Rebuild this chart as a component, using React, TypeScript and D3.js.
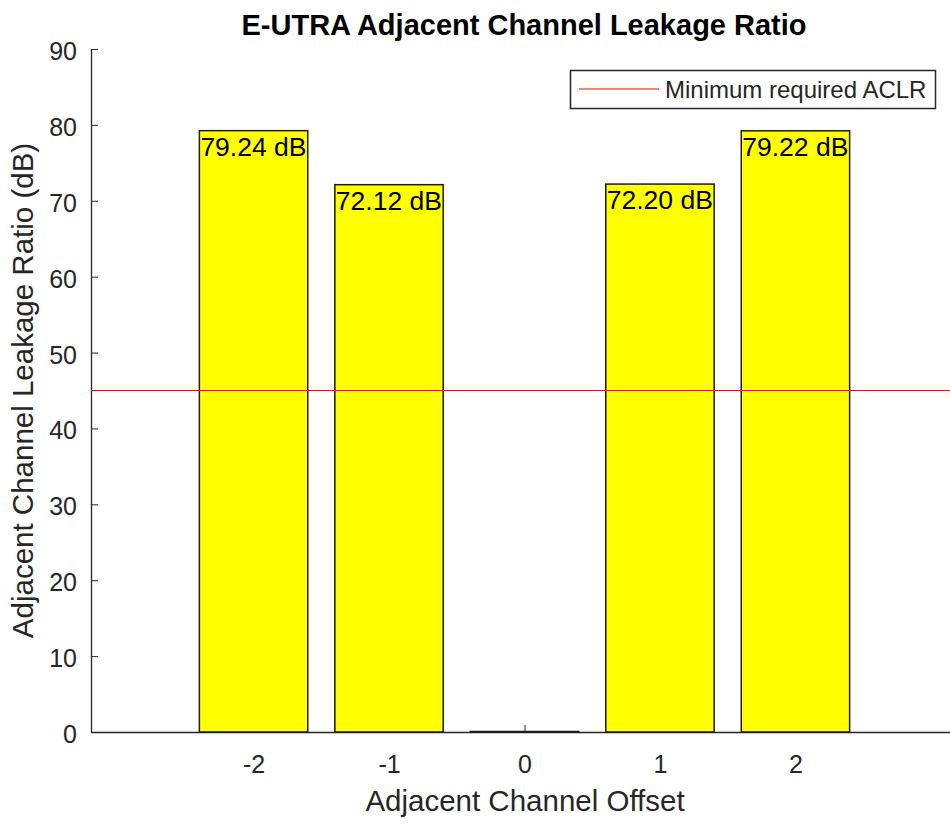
import React, { useRef, useEffect } from 'react';
import * as d3 from 'd3';

// channel offsets and measured ACLR (dB)
const offsets = [-2, -1, 0, 1, 2];
const aclrValues = [79.24, 72.12, 0, 72.2, 79.22];
const barLabels = ['79.24 dB', '72.12 dB', '', '72.20 dB', '79.22 dB'];
const yTicks = [0, 10, 20, 30, 40, 50, 60, 70, 80, 90];
const minRequired = 45;
const legendLabel = 'Minimum required ACLR';

const App = () => {
    const d3Container = useRef(null);

    const width = 950;
    const height = 825;
    const font = '"Liberation Sans", Arial, Helvetica, sans-serif';
    const axisColor = '#262626';

    useEffect(() => {
        if (!d3Container.current) {
            return;
        }
        const chart = d3.select(d3Container.current);
        chart.selectAll('*').remove();

        /* scales */
        const xScale = d3.scaleLinear().domain([-3.2, 3.2]).range([91, 958]);
        const yScale = d3.scaleLinear().domain([0, 90]).range([732, 49]);
        const barW = xScale(0.4) - xScale(-0.4);

        /* axes, ticks pointing inward like matlab */
        const yAxis = d3.axisLeft(yScale)
            .tickValues(yTicks)
            .tickFormat(d => String(d))
            .tickSizeInner(-7)
            .tickSizeOuter(0)
            .tickPadding(14);
        const yG = chart.append('g')
            .attr('transform', 'translate(' + xScale(-3.2) + ', 0)')
            .call(yAxis);
        yG.select('.domain').attr('stroke', axisColor).attr('stroke-width', 1.3);
        yG.selectAll('.tick line').attr('stroke', axisColor);
        yG.selectAll('text')
            .attr('font-family', font)
            .attr('font-size', 25)
            .attr('fill', axisColor)
            .attr('dy', '0.42em');

        const xAxis = d3.axisBottom(xScale)
            .tickValues(offsets)
            .tickFormat(d => String(d))
            .tickSizeInner(-7)
            .tickSizeOuter(0)
            .tickPadding(36);
        const xG = chart.append('g')
            .attr('transform', 'translate(0, ' + yScale(0) + ')')
            .call(xAxis);
        xG.select('.domain').attr('stroke', axisColor).attr('stroke-width', 1.3);
        xG.selectAll('.tick line').attr('stroke', axisColor);
        xG.selectAll('text')
            .attr('font-family', font)
            .attr('font-size', 25)
            .attr('fill', axisColor)
            .attr('dy', '0.2em');

        /* bars (zero bar still shows its edge) */
        chart.selectAll('rect.bar').data(offsets)
            .enter()
            .append('rect')
                .attr('class', 'bar')
                .attr('x', d => xScale(d - 0.4))
                .attr('width', barW)
                .attr('y', (d, i) => Math.min(yScale(aclrValues[i]), yScale(0) - 0.5))
                .attr('height', (d, i) => Math.max(yScale(0) - yScale(aclrValues[i]), 0.5))
                .attr('fill', '#ffff00')
                .attr('stroke', '#1a1a1a')
                .attr('stroke-width', 1.5);

        /* value labels at top-left of each bar */
        chart.selectAll('text.val').data(offsets)
            .enter()
            .append('text')
                .attr('class', 'val')
                .attr('x', d => xScale(d - 0.4) + 1)
                .attr('y', (d, i) => yScale(aclrValues[i]) + 25)
                .attr('font-family', font)
                .attr('font-size', 26.5)
                .attr('fill', '#000')
                .text((d, i) => barLabels[i]);

        /* limit line */
        chart.append('line')
            .attr('x1', xScale(-3.2))
            .attr('x2', xScale(3.2))
            .attr('y1', yScale(minRequired))
            .attr('y2', yScale(minRequired))
            .attr('stroke', '#ff0000')
            .attr('stroke-width', 1);

        /* legend */
        const lg = chart.append('g');
        lg.append('rect')
            .attr('x', 570.5).attr('y', 70.5)
            .attr('width', 365).attr('height', 38)
            .attr('fill', '#fff')
            .attr('stroke', axisColor)
            .attr('stroke-width', 1.5);
        lg.append('line')
            .attr('x1', 579).attr('x2', 659)
            .attr('y1', 89).attr('y2', 89)
            .attr('stroke', '#ff0000')
            .attr('stroke-width', 1.2);
        lg.append('text')
            .attr('x', 665).attr('y', 98)
            .attr('font-family', font)
            .attr('font-size', 24)
            .attr('fill', axisColor)
            .text(legendLabel);

        /* title and axis labels */
        chart.append('text')
            .attr('x', 524).attr('y', 35)
            .attr('text-anchor', 'middle')
            .attr('font-family', font)
            .attr('font-size', 29)
            .attr('font-weight', 'bold')
            .attr('fill', '#000')
            .text('E-UTRA Adjacent Channel Leakage Ratio');

        chart.append('text')
            .attr('x', 525).attr('y', 811)
            .attr('text-anchor', 'middle')
            .attr('font-family', font)
            .attr('font-size', 29.5)
            .attr('fill', axisColor)
            .text('Adjacent Channel Offset');

        chart.append('text')
            .attr('transform', 'translate(33, ' + (yScale(45)) + ') rotate(-90)')
            .attr('text-anchor', 'middle')
            .attr('font-family', font)
            .attr('font-size', 29.5)
            .attr('fill', axisColor)
            .text('Adjacent Channel Leakage Ratio (dB)');
    }, []);

    return (
        <svg
            ref={d3Container}
            width={width}
            height={height}
            style={{ position: 'absolute', left: 0, top: 0, background: '#fff' }}
        />
    );
};

export default App;
